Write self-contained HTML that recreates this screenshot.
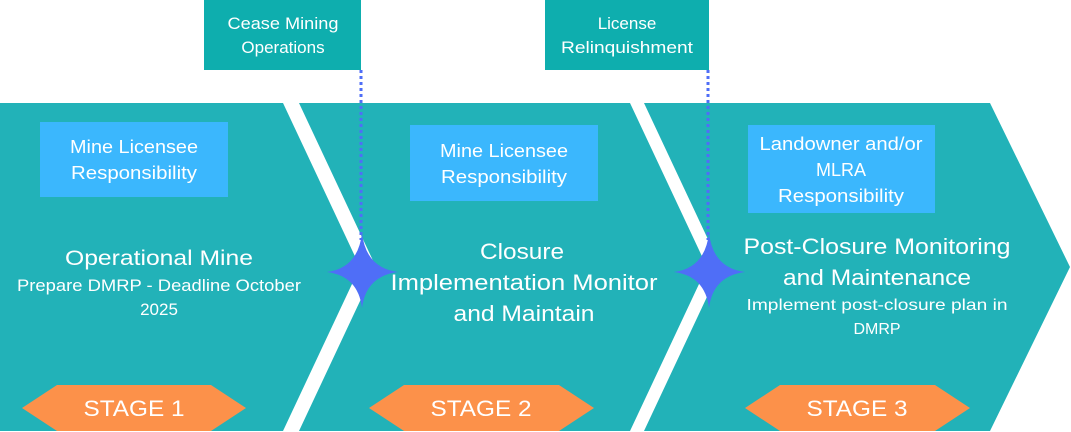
<!DOCTYPE html>
<html><head><style>
body{margin:0;width:1071px;height:432px;overflow:hidden;background:#fff;font-family:"Liberation Sans",sans-serif}
svg{position:absolute;left:0;top:0}
</style></head><body>
<svg width="1071" height="432" viewBox="0 0 1071 432">
<g fill="#22b2b8">
<polygon points="0,103 283,103 360,267 283,431 0,431"/>
<polygon points="299,103 630,103 707,267 630,431 299,431 376,267"/>
<polygon points="644,103 990,103 1070,267 990,431 644,431 721,267"/>
</g>
<rect x="204" y="0" width="157" height="70" fill="#0eaeae"/>
<rect x="545" y="0" width="164" height="70" fill="#0eaeae"/>
<g stroke="#4f6ef7" stroke-width="3" stroke-dasharray="3,3">
<line x1="361" y1="70" x2="361" y2="240"/>
<line x1="708" y1="70" x2="708" y2="240"/>
</g>
<g fill="#4f6ef7">
<path d="M362,233 Q366,268 398,272 Q366,276 362,308 Q358,276 327,272 Q358,268 362,233Z"/>
<path d="M709,233 Q713,268 745,272 Q713,276 709,308 Q705,276 674,272 Q705,268 709,233Z"/>
</g>
<g fill="#3bb7fd">
<rect x="40" y="122" width="188" height="75"/>
<rect x="410" y="125" width="188" height="76"/>
<rect x="748" y="125" width="187" height="88"/>
</g>
<g fill="#fc914a">
<polygon points="22,408 57,385 211,385 246,408 211,431 57,431"/>
<polygon points="369,408 404,385 559,385 594,408 559,431 404,431"/>
<polygon points="745,408 780,385 935,385 970,408 935,431 780,431"/>
</g>
<g fill="#fff" text-anchor="middle" font-family="Liberation Sans, sans-serif">
<text x="283" y="29" font-size="17" textLength="111" lengthAdjust="spacingAndGlyphs">Cease Mining</text>
<text x="283" y="53" font-size="17">Operations</text>
<text x="627" y="29" font-size="17">License</text>
<text x="627" y="53" font-size="17" textLength="132" lengthAdjust="spacingAndGlyphs">Relinquishment</text>
<text x="134" y="153" font-size="18" textLength="128" lengthAdjust="spacingAndGlyphs">Mine Licensee</text>
<text x="134" y="179" font-size="18" textLength="126" lengthAdjust="spacingAndGlyphs">Responsibility</text>
<text x="504" y="157" font-size="18" textLength="128" lengthAdjust="spacingAndGlyphs">Mine Licensee</text>
<text x="504" y="183" font-size="18" textLength="126" lengthAdjust="spacingAndGlyphs">Responsibility</text>
<text x="841" y="150" font-size="18" textLength="163" lengthAdjust="spacingAndGlyphs">Landowner and/or</text>
<text x="841" y="176" font-size="18">MLRA</text>
<text x="841" y="202" font-size="18" textLength="126" lengthAdjust="spacingAndGlyphs">Responsibility</text>
<text x="159" y="265" font-size="21" textLength="188" lengthAdjust="spacingAndGlyphs">Operational Mine</text>
<text x="159" y="291" font-size="17" textLength="284" lengthAdjust="spacingAndGlyphs">Prepare DMRP - Deadline October</text>
<text x="159" y="315" font-size="17">2025</text>
<text x="522" y="259" font-size="22" textLength="84" lengthAdjust="spacingAndGlyphs">Closure</text>
<text x="524" y="290" font-size="22" textLength="267" lengthAdjust="spacingAndGlyphs">Implementation Monitor</text>
<text x="524" y="321" font-size="22" textLength="141" lengthAdjust="spacingAndGlyphs">and Maintain</text>
<text x="877" y="254" font-size="22" textLength="267" lengthAdjust="spacingAndGlyphs">Post-Closure Monitoring</text>
<text x="877" y="285" font-size="22" textLength="188" lengthAdjust="spacingAndGlyphs">and Maintenance</text>
<text x="877" y="310" font-size="16" textLength="261" lengthAdjust="spacingAndGlyphs">Implement post-closure plan in</text>
<text x="877" y="334" font-size="16">DMRP</text>
<text x="134" y="416" font-size="22" textLength="101" lengthAdjust="spacingAndGlyphs">STAGE 1</text>
<text x="481" y="416" font-size="22" textLength="101" lengthAdjust="spacingAndGlyphs">STAGE 2</text>
<text x="857" y="416" font-size="22" textLength="101" lengthAdjust="spacingAndGlyphs">STAGE 3</text>
</g>
</svg>
</body></html>
